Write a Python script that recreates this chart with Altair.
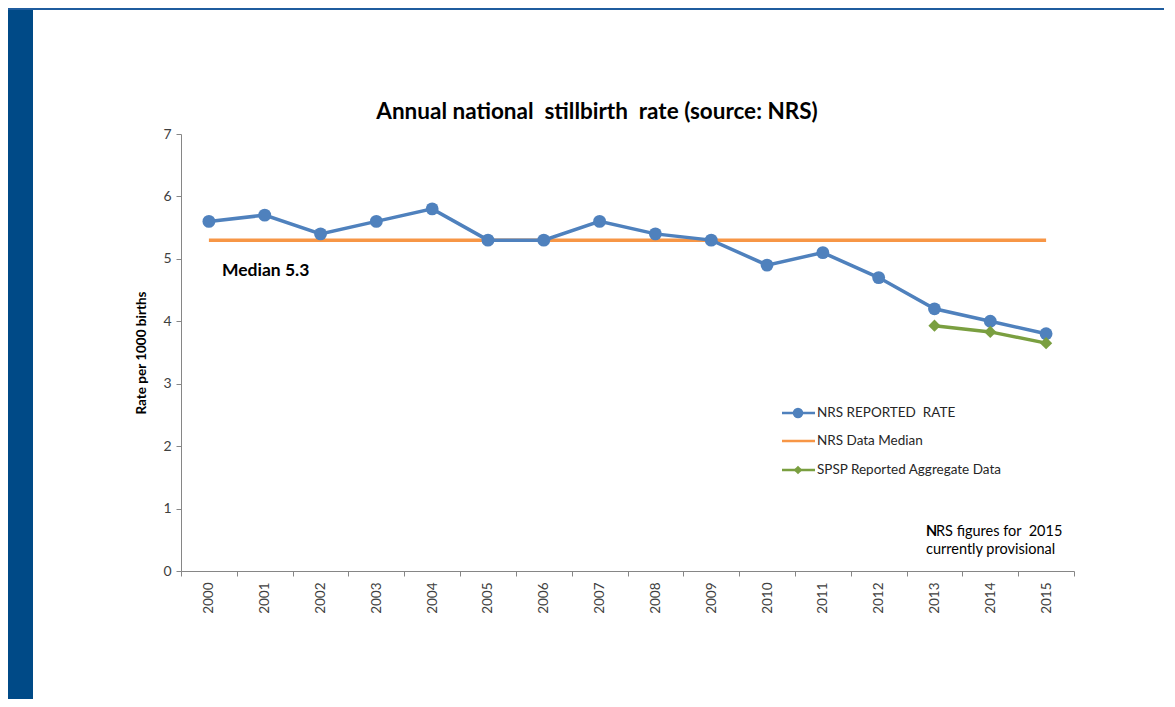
import altair as alt
import pandas as pd

years = [str(y) for y in range(2000, 2016)]
nrs_rate = [5.6, 5.7, 5.4, 5.6, 5.8, 5.3, 5.3, 5.6, 5.4, 5.3, 4.9, 5.1, 4.7, 4.2, 4.0, 3.8]
median_years = ["2000", "2015"]
median_vals = [5.3, 5.3]
spsp_years = ["2013", "2014", "2015"]
spsp_vals = [3.93, 3.83, 3.65]
legend_labels = ["NRS REPORTED\u00a0 RATE", "NRS Data Median", "SPSP Reported Aggregate Data"]

BLUE = "#4f81bd"
ORANGE = "#f79646"
GREEN = "#7a9f40"
FONT = "Lato"

W, H = 893, 437

df_nrs = pd.DataFrame({"year": years, "rate": nrs_rate})
df_med = pd.DataFrame({"year": median_years, "rate": median_vals})
df_spsp = pd.DataFrame({"year": spsp_years, "rate": spsp_vals})
dummy = pd.DataFrame({"a": [0]})

xscale = alt.Scale(type="band", paddingInner=0, paddingOuter=0, domain=years)
yscale = alt.Scale(domain=[0, 7], nice=False)

xenc = alt.X("year:O", scale=xscale, title=None,
             axis=alt.Axis(labelAngle=-90, labelAlign="right", labelBaseline="middle",
                           labelFontSize=13.5, labelColor="#404040", labelFont=FONT,
                           tickBand="extent", tickSize=5, tickColor="#868686",
                           domainColor="#868686", labelPadding=6, grid=False))
yenc = alt.Y("rate:Q", scale=yscale, title="Rate per 1000 births",
             axis=alt.Axis(values=[0, 1, 2, 3, 4, 5, 6, 7], format="d", tickSize=5, tickColor="#868686",
                           domainColor="#868686", labelFontSize=14, labelColor="#404040",
                           labelFont=FONT, labelPadding=5, grid=False,
                           titleFont=FONT, titleFontSize=13.5, titleFontWeight="bold",
                           titleColor="#000000", titlePadding=14))

median_line = alt.Chart(df_med).mark_line(color=ORANGE, strokeWidth=3.5).encode(x=xenc, y=yenc)
nrs_line = alt.Chart(df_nrs).mark_line(color=BLUE, strokeWidth=3.5).encode(x=xenc, y=yenc)
nrs_pts = alt.Chart(df_nrs).mark_point(filled=True, shape="circle", size=165, color=BLUE, opacity=1).encode(x=xenc, y=yenc)
spsp_line = alt.Chart(df_spsp).mark_line(color=GREEN, strokeWidth=3.5).encode(x=xenc, y=yenc)
spsp_pts = alt.Chart(df_spsp).mark_point(filled=True, shape="diamond", size=150, color=GREEN, opacity=1).encode(x=xenc, y=yenc)

median_text = alt.Chart(pd.DataFrame({"year": ["2000"], "rate": [4.8], "t": ["Median 5.3"]})).mark_text(
    align="left", baseline="middle", dx=13, font=FONT, fontSize=17.5, fontWeight="bold", color="#000000"
).encode(x=alt.X("year:O", scale=xscale), y=alt.Y("rate:Q", scale=yscale), text="t:N")

# Title
title_txt = alt.Chart(dummy).mark_text(
    align="center", baseline="middle", font=FONT, fontSize=22.5, fontWeight="bold", color="#000000"
).encode(x=alt.value(416), y=alt.value(-22),
         text=alt.value("Annual national\u00a0 stillbirth\u00a0 rate (source: NRS)"))

# Custom legend
leg_y = [279, 307, 336]
leg_colors = [BLUE, ORANGE, GREEN]
legend_layers = []
for lab, yy, col in zip(legend_labels, leg_y, leg_colors):
    legend_layers.append(alt.Chart(dummy).mark_rule(color=col, strokeWidth=2.5).encode(
        x=alt.value(601), x2=alt.value(634), y=alt.value(yy)))
    legend_layers.append(alt.Chart(dummy).mark_text(
        align="left", baseline="middle", font=FONT, fontSize=13.5, color="#262626").encode(
        x=alt.value(636), y=alt.value(yy), text=alt.value(lab)))
legend_layers.append(alt.Chart(dummy).mark_point(filled=True, shape="circle", size=110, color=BLUE, opacity=1).encode(
    x=alt.value(617), y=alt.value(leg_y[0])))
legend_layers.append(alt.Chart(dummy).mark_point(filled=True, shape="diamond", size=75, color=GREEN, opacity=1).encode(
    x=alt.value(617), y=alt.value(leg_y[2])))

# Note
note = [
    alt.Chart(dummy).mark_text(align="left", baseline="middle", font=FONT, fontSize=14.5, fontWeight="bold", color="#000000").encode(
        x=alt.value(745), y=alt.value(398), text=alt.value("N")),
    alt.Chart(dummy).mark_text(align="left", baseline="middle", font=FONT, fontSize=14.5, color="#000000").encode(
        x=alt.value(755), y=alt.value(398), text=alt.value("RS figures for\u00a0 2015")),
    alt.Chart(dummy).mark_text(align="left", baseline="middle", font=FONT, fontSize=14.5, color="#000000").encode(
        x=alt.value(745), y=alt.value(416), text=alt.value("currently provisional")),
]

# Frame decoration
strip = alt.Chart(dummy).mark_rect(color="#004a87").encode(
    x=alt.value(-173), x2=alt.value(-148), y=alt.value(-126), y2=alt.value(565))
top_border = alt.Chart(dummy).mark_rule(color="#1f5c9e", strokeWidth=2).encode(
    x=alt.value(-173), x2=alt.value(983), y=alt.value(-125))

chart = alt.layer(
    strip, top_border, title_txt,
    median_line, nrs_line, nrs_pts, spsp_line, spsp_pts, median_text,
    *legend_layers, *note
).properties(
    width=W, height=H,
    padding={"left": 173, "top": 126, "right": 90, "bottom": 128},
    autosize=alt.AutoSizeParams(type="none"),
    background="white",
).configure_view(stroke=None)

chart.save("out.html", embed_options={"renderer": "svg", "actions": False})
